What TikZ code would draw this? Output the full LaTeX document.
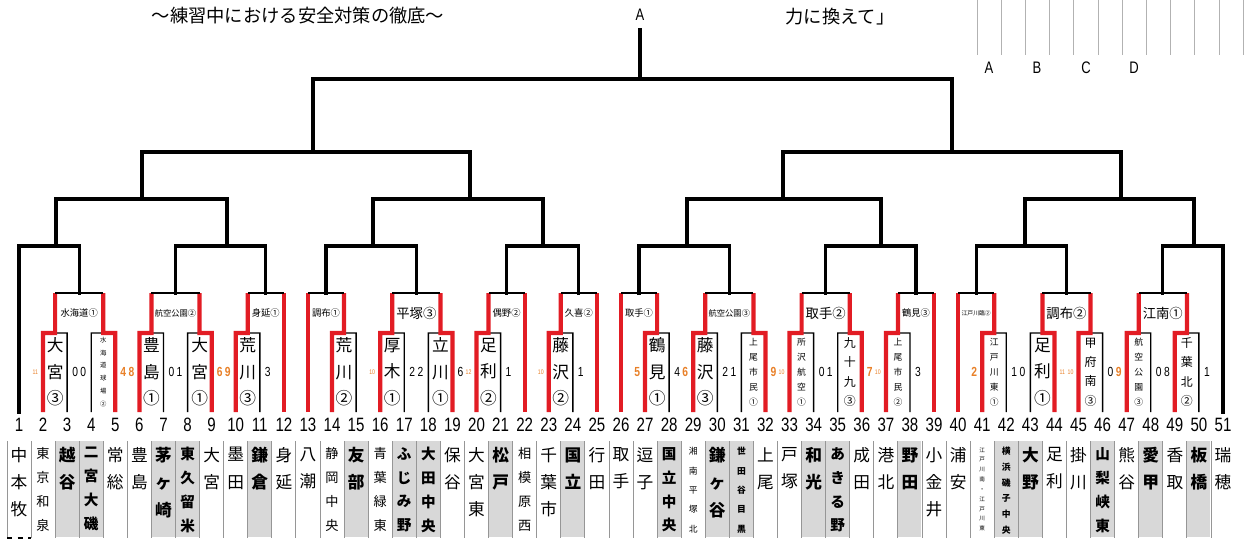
\documentclass[tikz,border=0pt]{standalone}
\usepackage{fontspec}
\setmainfont{Noto Sans CJK JP}
\newfontfamily\numfont{Liberation Sans}[FakeStretch=0.78]
\usepackage{tikz}
\usetikzlibrary{calc}
\usetikzlibrary{positioning}
\definecolor{winred}{RGB}{226,28,36}
\definecolor{ptorange}{RGB}{232,128,40}
\definecolor{cellgray}{RGB}{216,216,216}
\definecolor{sepgray}{RGB}{150,150,150}
\newcommand{\colorw}{winred}
\newcommand{\colorp}{ptorange}
\newcommand{\wsc}[1]{\textcolor{\colorp}{\bfseries #1}}
\newcommand{\wst}[1]{{\fontsize{3.8}{4}\selectfont\textcolor{\colorp}{#1}}}
\tikzset{
  tree/.style={line width=1.8pt, line cap=rect},
  win/.style={line width=2.4pt, draw=\colorw, line join=miter},
  lose/.style={line width=0.8pt},
  rnd/.style={line width=0.9pt},
  num/.style={font=\numfont\fontsize{11}{12}\selectfont},
  score/.style={font=\numfont\fontsize{7.5}{8}\selectfont, inner sep=1pt},
  vbig/.style={align=center, inner sep=0pt, font=\fontsize{9.5}{15}\selectfont},
  vmed/.style={align=center, inner sep=0pt, font=\fontsize{6.8}{11}\selectfont},
  vsmall/.style={align=center, inner sep=0pt, font=\fontsize{5}{8.5}\selectfont},
  vtiny/.style={align=center, inner sep=0pt, font=\fontsize{3.6}{7.3}\selectfont},
  lbig/.style={inner sep=0pt, font=\fontsize{7.6}{8}\selectfont},
  lsmall/.style={inner sep=0pt, font=\fontsize{5.3}{6}\selectfont},
  ltiny/.style={inner sep=0pt, font=\fontsize{4.7}{5}\selectfont},
  lxtiny/.style={inner sep=0pt, font=\fontsize{3.3}{4}\selectfont},
  school/.style={anchor=north, align=center, inner sep=0pt},
  nameL/.style={school, font=\fontsize{9.5}{15.5}\selectfont},
  nameLb/.style={school, font=\fontsize{9.5}{15.5}\selectfont\bfseries},
  nameM/.style={school, font=\fontsize{7.5}{13.6}\selectfont},
  nameMb/.style={school, font=\fontsize{8.3}{13.6}\selectfont\bfseries},
  nameS/.style={school, font=\fontsize{5}{11}\selectfont},
  nameSb/.style={school, font=\fontsize{5}{11}\selectfont\bfseries},
  nameXSb/.style={school, font=\fontsize{5}{8.9}\selectfont\bfseries},
  nameT/.style={school, font=\fontsize{3.2}{5.6}\selectfont},
  sep/.style={draw=sepgray, line width=0.5pt},
  cell/.style={fill=cellgray},
  grid/.style={draw=gray!60, line width=0.5pt},
  head/.style={font=\fontsize{10.4}{12}\selectfont},
  letter/.style={font=\numfont\fontsize{9.5}{10}\selectfont}
}

\begin{document}
\begin{tikzpicture}[x=0.02cm, y=-0.02cm]
  \useasboundingbox (0,0) rectangle (1247,542);
  \coordinate (y1) at (0,79);
  \coordinate (y2) at (0,152);
  \coordinate (y3) at (0,199);
  \coordinate (y4) at (0,246);
  \coordinate (y5) at (0,293);

  \foreach \i in {1,...,51}{
    \pgfmathsetmacro{\x}{19+(\i-1)*24.08}
    \coordinate (t\i) at (\x,412);
    \coordinate (b\i) at (\x,333);
    \coordinate (c\i) at (\x,441);
    \node[num] (n\i) at (\x,425) {\i};
  }

  % table of schools
  \foreach \i in {3,4,7,8,11,15,17,18,21,24,28,30,31,34,35,38,42,43,46,48,50}{
    \fill[cell] ($(c\i)+(-11.5,0)$) rectangle ($(c\i)+(11.5,96)$);
  }
  \foreach \i in {1,...,50}{
    \draw[sep] ($(c\i)+(12.04,0)$) -- ++(0,97);
  }
  \draw[sep] ($(c1)+(-12,0)$) -- ++(0,97);
  \draw[dashed, line width=0.6pt] ($(c1)+(-12,97)$) -- ++(24,0);

  \foreach \i/\nm/\sty in {1/{中\\本\\牧}/nameL, 2/{東\\京\\和\\泉}/nameM,
    3/{越\\谷}/nameLb, 4/{二\\宮\\大\\磯}/nameMb, 5/{常\\総}/nameL,
    6/{豊\\島}/nameL, 7/{茅\\ヶ\\崎}/nameLb, 8/{東\\久\\留\\米}/nameMb,
    9/{大\\宮}/nameL, 10/{墨\\田}/nameL, 11/{鎌\\倉}/nameLb, 12/{身\\延}/nameL,
    13/{八\\潮}/nameL, 14/{静\\岡\\中\\央}/nameM, 15/{友\\部}/nameLb,
    16/{青\\葉\\緑\\東}/nameM, 17/{ふ\\じ\\み\\野}/nameMb, 18/{大\\田\\中\\央}/nameMb,
    19/{保\\谷}/nameL, 20/{大\\宮\\東}/nameL, 21/{松\\戸}/nameLb,
    22/{相\\模\\原\\西}/nameM, 23/{千\\葉\\市}/nameL, 24/{国\\立}/nameLb,
    25/{行\\田}/nameL, 26/{取\\手}/nameL, 27/{逗\\子}/nameL,
    28/{国\\立\\中\\央}/nameMb, 29/{湘\\南\\平\\塚\\北}/nameS, 30/{鎌\\ヶ\\谷}/nameLb,
    31/{世\\田\\谷\\目\\黒}/nameSb, 32/{上\\尾}/nameL, 33/{戸\\塚}/nameL,
    34/{和\\光}/nameLb, 35/{あ\\き\\る\\野}/nameMb, 36/{成\\田}/nameL,
    37/{港\\北}/nameL, 38/{野\\田}/nameLb, 39/{小\\金\\井}/nameL, 40/{浦\\安}/nameL,
    41/{江\\戸\\川\\南\\・\\江\\戸\\川\\東}/nameT, 42/{横\\浜\\磯\\子\\中\\央}/nameXSb,
    43/{大\\野}/nameLb, 44/{足\\利}/nameL, 45/{掛\\川}/nameL,
    46/{山\\梨\\峡\\東}/nameMb, 47/{熊\\谷}/nameL, 48/{愛\\甲}/nameLb,
    49/{香\\取}/nameL, 50/{板\\橋}/nameLb, 51/{瑞\\穂}/nameL}{
    \node[\sty] (nm\i) at ($(c\i)+(0,6)$) {\nm};
  }

  % first round: first team / winner / loser / scores / ground
  \foreach \i/\wn/\los/\lsc/\rsc/\ven/\vst in {
    2/2/3/{\wst{11}}/0/{大\\宮\\③}/vbig,
    4/5/4/0/{\wsc{4}}/{水\\海\\道\\球\\場\\②}/vtiny,
    6/6/7/{\wsc{8}}/0/{豊\\島\\①}/vbig,
    8/9/8/1/{\wsc{6}}/{大\\宮\\①}/vbig,
    10/10/11/{\wsc{9}}/3/{荒\\川\\③}/vbig,
    14/14/15/{}/{}/{荒\\川\\②}/vbig,
    16/16/17/{\wst{10}}/2/{厚\\木\\①}/vbig,
    18/19/18/2/6/{立\\川\\①}/vbig,
    20/20/21/{\wst{12}}/1/{足\\利\\②}/vbig,
    23/23/24/{\wst{10}}/1/{藤\\沢\\②}/vbig,
    27/27/28/{\wsc{5}}/4/{鶴\\見\\①}/vbig,
    29/29/30/{\wsc{6}}/2/{藤\\沢\\③}/vbig,
    31/32/31/1/{\wsc{9}}/{上\\尾\\市\\民\\①}/vsmall,
    33/33/34/{\wst{10}}/0/{所\\沢\\航\\空\\①}/vsmall,
    35/36/35/1/{\wsc{7}}/{九\\十\\九\\③}/vmed,
    37/37/38/{\wst{10}}/3/{上\\尾\\市\\民\\②}/vsmall,
    41/41/42/{\wsc{2}}/1/{江\\戸\\川\\東\\①}/vsmall,
    43/44/43/0/{\wst{11}}/{足\\利\\①}/vbig,
    45/45/46/{\wst{10}}/0/{甲\\府\\南\\③}/vmed,
    47/47/48/{\wsc{9}}/0/{航\\空\\公\\園\\③}/vsmall,
    49/49/50/8/1/{千\\葉\\北\\②}/vmed}{
    \pgfmathtruncatemacro{\j}{\i+1}
    \coordinate (m\i) at ($(b\i)!.5!(b\j)$);
    \draw[lose] (m\i) -- (b\los) -- (t\los);
    \draw[win] (t\wn) -- (b\wn) -- (m\i) -- (m\i |- y5) coordinate (r\i);
    \node[score, anchor=east] (sl\i) at ($(b\i)+(-3,39)$) {\lsc};
    \node[score, anchor=west] (sr\i) at ($(b\j)+(3,39)$) {\rsc};
    \node[\vst] (ven\i) at ($(m\i)+(0,39)$) {\ven};
  }
  % byes into the second round
  \foreach \i in {12,13,22,25,26,39,40}{
    \draw[win] (t\i) -- (t\i |- y5) coordinate (r\i);
  }
  \draw[tree] (t1) -- (t1 |- y4) coordinate (p0);
  \draw[tree] (t51) -- (t51 |- y4) coordinate (p15);

  % second round
  \foreach \a/\b/\lab/\sty [count=\k] in {2/4/水海道①/lsmall, 6/8/航空公園②/ltiny,
    10/12/身延①/lsmall, 13/14/調布①/lsmall, 16/18/平塚③/lbig, 20/22/偶野②/lsmall,
    23/25/久喜②/lsmall, 26/27/取手①/lsmall, 29/31/航空公園③/ltiny, 33/35/取手②/lbig,
    37/39/鶴見③/lsmall, 40/41/江戸川臨②/lxtiny, 43/45/調布②/lbig, 47/49/江南①/lbig}{
    \draw[rnd] (r\a) -- (r\b);
    \coordinate (s\k) at ($(r\a)!.5!(r\b)$);
    \draw[tree] (s\k) -- (s\k |- y4) coordinate (p\k);
    \node[\sty] (v\k) at ($(s\k)+(0,20)$) {\lab};
  }

  % upper rounds
  \foreach \a/\b/\x [count=\k] in {p0/p1/56, p2/p3/227, p4/p5/373, p6/p7/543,
    p8/p9/687, p10/p11/881, p12/p13/1025, p14/p15/1194}{
    \draw[tree] (\a) -- (\b);
    \draw[tree] (\x,246) -- (\x,199) coordinate (g\k);
  }
  \foreach \a/\b/\x [count=\k] in {g1/g2/142, g3/g4/470, g5/g6/783, g7/g8/1121}{
    \draw[tree] (\a) -- (\b);
    \draw[tree] (\x,199) -- (\x,152) coordinate (h\k);
  }
  \foreach \a/\b/\x [count=\k] in {h1/h2/313, h3/h4/952}{
    \draw[tree] (\a) -- (\b);
    \draw[tree] (\x,152) -- (\x,79) coordinate (f\k);
  }
  \draw[tree] (f1) -- (f2);
  \draw[tree] (640,79) -- (640,30) coordinate (top);
  \node[letter] (champ) at (640,15) {A};

  % heading and corner
  \node[head] (motto) at (298,16) {〜練習中における安全対策の徹底〜};
  \node[head] (quote) at (840,17) {力に換えて」};
  \foreach \k in {0,...,11}{
    \draw[grid] (977+\k*24.2,0) -- (977+\k*24.2,55);
  }
  \foreach \l/\x in {A/989, B/1037, C/1086, D/1134}{
    \node[letter] (col\l) at (\x,68) {\l};
  }
\end{tikzpicture}
\end{document}
